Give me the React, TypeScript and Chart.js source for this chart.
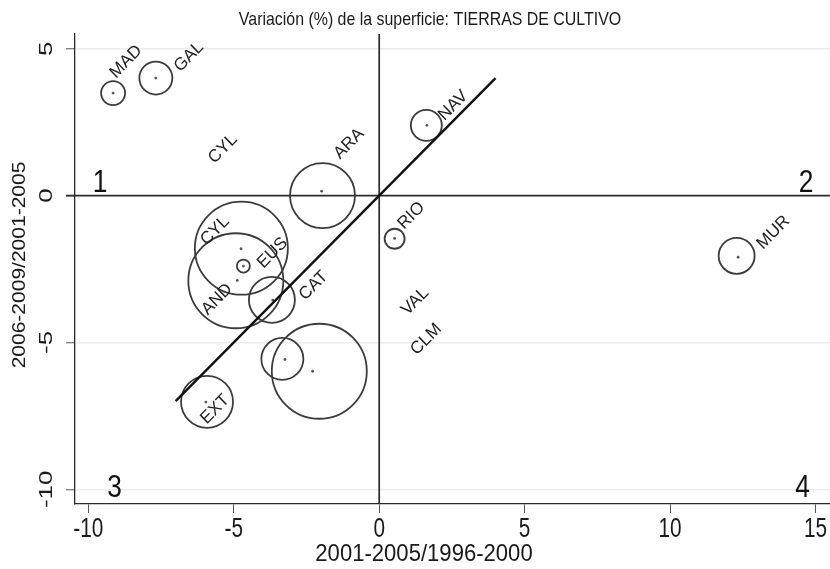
import React, { useEffect, useRef } from "react";
import { Chart, registerables } from "chart.js";

Chart.register(...registerables);

const W = 830;
const H = 569;

const titleText = "Variación (%) de la superficie: TIERRAS DE CULTIVO";
const xTitle = "2001-2005/1996-2000";
const yTitle = "2006-2009/2001-2005";

const xTicks = [-10, -5, 0, 5, 10, 15];
const yTicks = [-10, -5, 0, 5];

// bubbles (circle outlines): centre and radius in px
const circleX = [-9.15, -7.68, -1.95, 1.62, 0.53, 12.29, -4.74, -4.67, -4.93, -3.69, -3.33, -2.06, -5.92];
const circleY = [3.49, 4.0, 0.0, 2.39, -1.47, -2.05, -1.79, -2.4, -2.9, -3.55, -5.56, -5.98, -7.02];
const circleR = [12, 16.5, 32.5, 15.5, 10, 18, 46.5, 6.5, 47.5, 23, 21, 47.5, 26];

// small centre dots
const dotX = [-9.15, -7.68, -1.98, 1.64, 0.53, 12.34, -4.75, -4.67, -4.88, -3.66, -3.24, -2.29, -5.96];
const dotY = [3.49, 4.0, 0.15, 2.39, -1.46, -2.1, -1.81, -2.4, -2.89, -3.56, -5.58, -5.98, -7.03];

// region labels (rotated 45°)
const labelText = ["MAD", "GAL", "CYL", "ARA", "NAV", "RIO", "MUR", "CYL", "EUS", "AND", "CAT", "VAL", "CLM", "EXT"];
const labelX = [-8.74, -6.58, -5.41, -1.07, 2.51, 1.07, 13.52, -5.68, -3.7, -5.61, -2.29, 1.2, 1.58, -5.68];
const labelY = [4.59, 4.76, 1.63, 1.8, 3.1, -0.65, -1.22, -1.16, -1.92, -3.5, -3.03, -3.57, -4.86, -7.24];

// quadrant numbers
const quadText = ["1", "2", "3", "4"];
const quadX = [-9.6, 14.68, -9.1, 14.56];
const quadY = [0.51, 0.51, -9.88, -9.88];

// diagonal reference line
const diagX = [-7, 4];
const diagY = [-7, 4];

const FONT = '"Liberation Sans", Arial, Helvetica, sans-serif';

function drawText(
  ctx: CanvasRenderingContext2D,
  text: string,
  x: number,
  y: number,
  size: number,
  angle: number,
  sx: number,
  color = "#1a1a1a"
) {
  ctx.save();
  ctx.translate(x, y);
  ctx.scale(sx, 1);
  ctx.rotate(angle);
  ctx.font = `${size}px ${FONT}`;
  ctx.textAlign = "center";
  ctx.textBaseline = "alphabetic";
  ctx.fillStyle = color;
  ctx.fillText(text, 0, size * 0.358);
  ctx.restore();
}

const overlay = {
  id: "overlay",
  beforeDatasetsDraw(chart: any) {
    const { ctx, chartArea: a, scales } = chart;
    const x0 = scales.x.getPixelForValue(0);
    const y0 = scales.y.getPixelForValue(0);
    ctx.save();
    ctx.strokeStyle = "#2b2b2b";
    ctx.lineWidth = 1.7;
    ctx.beginPath();
    ctx.moveTo(x0, a.top);
    ctx.lineTo(x0, a.bottom);
    ctx.moveTo(a.left - 9, y0);
    ctx.lineTo(a.right, y0);
    ctx.stroke();
    ctx.restore();
  },
  afterDraw(chart: any) {
    const { ctx, chartArea: a, scales } = chart;
    const xs = scales.x;
    const ys = scales.y;
    // title
    drawText(ctx, titleText, 430, 18, 18.5, 0, 0.86);
    // x ticks
    xTicks.forEach((v) => drawText(ctx, String(v), xs.getPixelForValue(v), 527, 27, 0, 0.77));
    // y ticks
    yTicks.forEach((v) => drawText(ctx, String(v), 45, ys.getPixelForValue(v), 26, -Math.PI / 2, 0.7));
    // axis titles
    drawText(ctx, xTitle, 424, 552, 24, 0, 0.92);
    drawText(ctx, yTitle, 18.5, (a.top + a.bottom) / 2 - 4, 21, -Math.PI / 2, 0.9);
    // region labels
    labelText.forEach((t, i) =>
      drawText(ctx, t, xs.getPixelForValue(labelX[i]), ys.getPixelForValue(labelY[i]), 17.5, -Math.PI / 4, 0.97, "#222")
    );
    // quadrant numbers
    quadText.forEach((t, i) =>
      drawText(ctx, t, xs.getPixelForValue(quadX[i]), ys.getPixelForValue(quadY[i]), 31, 0, 0.85, "#111")
    );
  },
};

export default function App() {
  const ref = useRef<HTMLCanvasElement | null>(null);

  useEffect(() => {
    document.body.style.margin = "0";
    const canvas = ref.current;
    if (!canvas) return;
    const chart = new Chart(canvas, {
      type: "bubble",
      data: {
        datasets: [
          {
            type: "line" as any,
            data: diagX.map((x, i) => ({ x, y: diagY[i] })),
            borderColor: "#111",
            borderWidth: 2.4,
            pointRadius: 0,
            showLine: true,
            fill: false,
          } as any,
          {
            type: "bubble",
            data: circleX.map((x, i) => ({ x, y: circleY[i], r: circleR[i] })),
            backgroundColor: "rgba(0,0,0,0)",
            borderColor: "#3c3c3c",
            borderWidth: 1.8,
          },
          {
            type: "scatter" as any,
            data: dotX.map((x, i) => ({ x, y: dotY[i] })),
            backgroundColor: "#555",
            borderWidth: 0,
            pointRadius: 1.4,
          } as any,
        ],
      },
      options: {
        animation: false,
        responsive: false,
        maintainAspectRatio: false,
        layout: { autoPadding: false, padding: { left: 66, top: 34, right: 0, bottom: 56 } },
        plugins: { legend: { display: false }, tooltip: { enabled: false }, title: { display: false } },
        events: [],
        scales: {
          x: {
            type: "linear",
            min: -10.46,
            max: 15.5,
            afterBuildTicks: (s: any) => {
              s.ticks = xTicks.map((v) => ({ value: v }));
            },
            ticks: { display: false },
            grid: { drawOnChartArea: false, drawTicks: true, tickLength: 9, tickColor: "#555", tickWidth: 1 },
            border: { display: true, color: "#2b2b2b", width: 1.3 },
          },
          y: {
            type: "linear",
            min: -10.5,
            max: 5.5,
            afterBuildTicks: (s: any) => {
              s.ticks = yTicks.map((v) => ({ value: v }));
            },
            ticks: { display: false },
            grid: {
              drawOnChartArea: true,
              drawTicks: true,
              tickLength: 9,
              tickColor: "#555",
              tickWidth: 1,
              lineWidth: 1.5,
              color: (c: any) => (c.tick && c.tick.value === 0 ? "rgba(0,0,0,0)" : "#ececec"),
            },
            border: { display: true, color: "#2b2b2b", width: 1.3 },
          },
        },
      },
      plugins: [overlay],
    });
    return () => chart.destroy();
  }, []);

  return (
    <div style={{ width: W, height: H }}>
      <canvas ref={ref} width={W} height={H} style={{ display: "block", width: W, height: H }} />
    </div>
  );
}
